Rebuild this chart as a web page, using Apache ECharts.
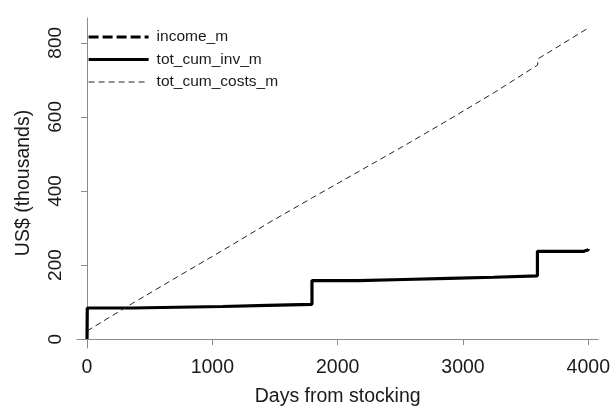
<!DOCTYPE html>
<html><head><meta charset="utf-8">
<script src="https://cdn.jsdelivr.net/npm/echarts@6/dist/echarts.min.js"></script>
<style>html,body{margin:0;padding:0;background:#fff}#c{width:613px;height:413px}</style>
</head><body><div id="c"></div>
<script>
// Data (days from stocking, US$ thousands)
const incomeM = []; // no visible values in the reference
const invDays =   [0, 2, 360, 716, 1080, 1440, 1795, 2163, 2529, 2887, 3245, 3594, 3965, 4000];
const invVals =   [0, 84, 86, 88, 91, 94, 158, 161, 164, 167, 171, 237, 241, 243];
const costDays =  [0, 365, 730, 1095, 1460, 1800, 2165, 2530, 2895, 3260, 3595, 3600, 4000];
const costVals =  [22, 97, 170, 242, 316, 382, 452, 522, 594, 668, 740, 757, 840];
const xTicks = [0, 1000, 2000, 3000, 4000];
const yTicks = [0, 200, 400, 600, 800];
const seriesNames = ['income_m', 'tot_cum_inv_m', 'tot_cum_costs_m'];
const legendWidths = [3.2, 3.2, 1];

const font = '"Liberation Sans", Arial, sans-serif';
const chart = echarts.init(document.getElementById('c'), null, {renderer: 'canvas'});
chart.setOption({
  animation: false,
  backgroundColor: '#fff',
  grid: {left: 77, top: 18, right: 13, bottom: 65, containLabel: false},
  legend: {
    left: 87, top: 29, padding: 0, orient: 'vertical', itemWidth: 60, itemHeight: 15, itemGap: 6.5,
    itemStyle: {opacity: 0},
    textStyle: {fontFamily: font, fontSize: 15.5, color: '#1a1a1a', padding: [0,0,0,3]},
    data: seriesNames.map((n, i) => ({name: n, lineStyle: {width: legendWidths[i]}}))
  },
  xAxis: {
    type: 'value', min: -80, max: 4080,
    name: 'Days from stocking', nameLocation: 'middle', nameGap: 39,
    nameTextStyle: {fontFamily: font, fontSize: 19.5, color: '#1a1a1a'},
    axisLine: {show: true, lineStyle: {color: '#8c8c8c', width: 1}},
    axisTick: {show: true, customValues: xTicks, length: 6, lineStyle: {color: '#8c8c8c'}},
    axisLabel: {customValues: xTicks, formatter: v => String(v), fontFamily: font, fontSize: 19.5, color: '#1a1a1a', margin: 10},
    splitLine: {show: false}
  },
  yAxis: {
    type: 'value', min: -24, max: 867,
    name: 'US$ (thousands)', nameLocation: 'middle', nameGap: 43, nameRotate: 90,
    nameTextStyle: {fontFamily: font, fontSize: 19.5, color: '#1a1a1a'},
    axisLine: {show: true, lineStyle: {color: '#8c8c8c', width: 1}},
    axisTick: {show: true, customValues: yTicks, length: 6, lineStyle: {color: '#8c8c8c'}},
    axisLabel: {customValues: yTicks, formatter: v => String(v), rotate: 90, fontFamily: font, fontSize: 19, color: '#1a1a1a', margin: 12},
    splitLine: {show: false}
  },
  series: [
    {name: 'income_m', type: 'line', data: incomeM, symbol: 'none',
     lineStyle: {color: '#000', width: 3.2, type: [10, 4]}, itemStyle: {color: '#000'}},
    {name: 'tot_cum_inv_m', type: 'line', step: 'end', symbol: 'none',
     data: invDays.map((d, i) => [d, invVals[i]]),
     lineStyle: {color: '#000', width: 3.2, type: 'solid'}, itemStyle: {color: '#000'}},
    {name: 'tot_cum_costs_m', type: 'line', symbol: 'none',
     data: costDays.map((d, i) => [d, costVals[i]]),
     lineStyle: {color: '#222', width: 1, type: [6, 4]}, itemStyle: {color: '#222'}}
  ]
});
</script></body></html>
